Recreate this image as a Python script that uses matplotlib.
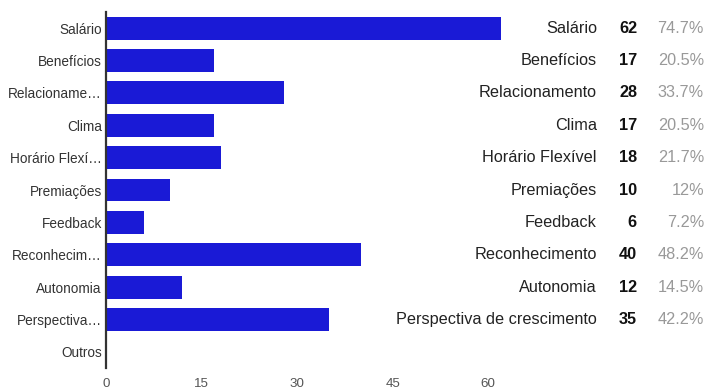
import matplotlib
matplotlib.use("Agg")
import matplotlib.pyplot as plt
import matplotlib.transforms as mtransforms

plt.rcParams['font.family'] = ['Liberation Sans', 'DejaVu Sans']

rotulos_eixo = ["Salário", "Benefícios", "Relacioname…", "Clima", "Horário Flexí…",
                "Premiações", "Feedback", "Reconhecim…", "Autonomia", "Perspectiva…", "Outros"]
rotulos_tabela = ["Salário", "Benefícios", "Relacionamento", "Clima", "Horário Flexível",
                  "Premiações", "Feedback", "Reconhecimento", "Autonomia",
                  "Perspectiva de crescimento"]
valores = [62, 17, 28, 17, 18, 10, 6, 40, 12, 35, 0]
percentuais = ["74.7%", "20.5%", "33.7%", "20.5%", "21.7%", "12%", "7.2%",
               "48.2%", "14.5%", "42.2%"]
ticks_x = [0, 15, 30, 45, 60]

def graficar():
    fig = plt.figure(figsize=(7.08, 3.89), dpi=100)
    # eixo: 0 em x=106px, 6.37 px por unidade
    largura = 70 * 6.37
    ax = fig.add_axes([106 / 708, 1 - 368 / 389, largura / 708, 356 / 389])

    y = list(range(len(valores)))
    ax.barh(y, valores, height=0.71, color="#1a1ad6", clip_on=False)
    ax.set_xlim(0, 70)
    ax.set_ylim(len(valores) - 0.5, -0.5)

    ax.set_yticks(y)
    ax.set_yticklabels(rotulos_eixo, fontsize=9.8, color="#333333")
    ax.set_xticks(ticks_x)
    ax.set_xticklabels([str(t) for t in ticks_x], fontsize=9.6, color="#555555")
    ax.tick_params(axis="both", length=0)
    ax.tick_params(axis="x", pad=7)
    ax.tick_params(axis="y", pad=3)

    for lado in ["top", "right", "bottom"]:
        ax.spines[lado].set_visible(False)
    ax.spines["left"].set_color("#333333")
    ax.spines["left"].set_linewidth(1.6)

    trans = mtransforms.blended_transform_factory(fig.transFigure, ax.transData)
    for i, rot in enumerate(rotulos_tabela):
        ax.text(597 / 708, i, rot, transform=trans, ha="right", va="center",
                fontsize=11.7, color="#222222")
        ax.text(637 / 708, i, str(valores[i]), transform=trans, ha="right", va="center",
                fontsize=11.7, color="#111111", fontweight="bold")
        ax.text(704 / 708, i, percentuais[i], transform=trans, ha="right", va="center",
                fontsize=11.7, color="#999999")

    fig.savefig("out.png", dpi=100)

graficar()
